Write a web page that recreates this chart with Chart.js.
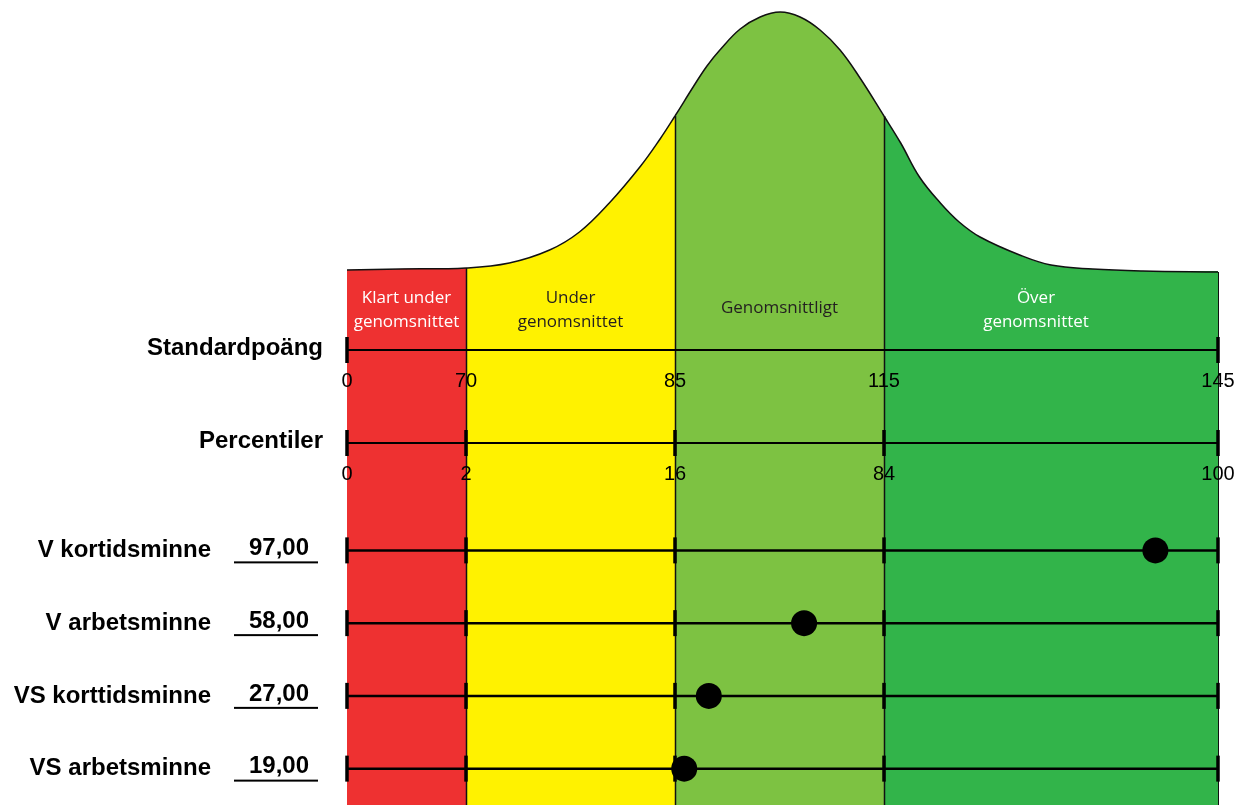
<!DOCTYPE html>
<html>
<head>
<meta charset="utf-8">
<script src="https://cdn.jsdelivr.net/npm/chart.js@4/dist/chart.umd.min.js"></script>
<style>
  body { margin: 0; background: #fff; }
  canvas { display: block; }
</style>
</head>
<body>
<canvas id="profil" width="1241" height="805"></canvas>
<script>
// zone edges in percentiles, with the matching standard scores
var zoneEdges = [0, 2, 16, 84, 100];
var standardTicks = ['0', '70', '85', '115', '145'];
var percentTicks = ['0', '2', '16', '84', '100'];
var zoneNames = [['Klart under', 'genomsnittet'], ['Under', 'genomsnittet'], ['Genomsnittligt'], ['Över', 'genomsnittet']];
var zoneColors = ['#ee3131', '#fff200', '#7dc242', '#32b44a'];
var zoneTextColors = ['#ffffff', '#231f20', '#231f20', '#ffffff'];
var scaleRows = ['Standardpoäng', 'Percentiler'];
var testNames = ['V kortidsminne', 'V arbetsminne', 'VS korttidsminne', 'VS arbetsminne'];
var testValues = [97, 58, 27, 19];

// bell curve (x in percentile, height above the base)
var curvePct = [0, 0.9, 2, 4.9, 7.6, 9.6, 11.6, 13.7, 15.0, 16, 21.9, 26.4, 30.6, 37.2, 43.7, 50.2, 56.7, 63.2, 69.7, 76.2, 84, 84.8, 85.7, 86.7, 87.6, 88.6, 90.5, 92.0, 94.0, 96.4, 100];
var curveH = [2, 3, 4, 9, 22, 40, 69, 106, 133, 156, 185, 206, 222, 243, 255, 260, 255, 242, 222, 194, 156, 129, 95, 69, 50, 35, 17, 7, 3, 1, 0];

// layout only
var zoneWidths = [119, 209, 209, 334];
var bandWeights = [303.5, 186, 24.5, 291];

class PiecewiseScale extends Chart.LinearScale {
    static id = 'piecewise';
    static defaults = Chart.LinearScale.defaults;
    getPixelForValue(v) {
        var total = zoneWidths.reduce(function (a, b) { return a + b; }, 0);
        var acc = 0;
        for (var i = 0; i < zoneWidths.length; i++) {
            var a = zoneEdges[i], b = zoneEdges[i + 1];
            if (v <= b || i === zoneWidths.length - 1) {
                return this.left + (acc + (v - a) / (b - a) * zoneWidths[i]) / total * this.width;
            }
            acc += zoneWidths[i];
        }
    }
    getValueForPixel(p) {
        var total = zoneWidths.reduce(function (a, b) { return a + b; }, 0);
        var f = (p - this.left) / this.width * total;
        var acc = 0;
        for (var i = 0; i < zoneWidths.length; i++) {
            if (f <= acc + zoneWidths[i] || i === zoneWidths.length - 1) {
                return zoneEdges[i] + (f - acc) / zoneWidths[i] * (zoneEdges[i + 1] - zoneEdges[i]);
            }
            acc += zoneWidths[i];
        }
    }
}
Chart.register(PiecewiseScale);

function zoneOf(p) {
    for (var i = 0; i < 4; i++) {
        if (p < zoneEdges[i + 1]) return i;
    }
    return 3;
}
function curveAt(p) {
    return curveH[curvePct.indexOf(p)];
}

var datasets = [];
// the bell curve, each part filled with its zone colour
datasets.push({
    data: curvePct.map(function (p, i) { return {x: p, y: curveH[i]}; }),
    yAxisID: 'yCurve',
    borderColor: '#111',
    borderWidth: 1.5,
    backgroundColor: zoneColors[0],
    fill: 'origin',
    pointRadius: 0,
    tension: 0.4,
    segment: {
        backgroundColor: function (c) { return zoneColors[zoneOf(c.p0.parsed.x)]; }
    },
    order: 10
});
// horizontal lines and tick marks
function rowLine(axis, name, width) {
    datasets.push({
        data: [{x: 0, y: name}, {x: 100, y: name}],
        yAxisID: axis, borderColor: '#000', borderWidth: width, pointRadius: 0, fill: false, order: 3
    });
}
function rowTicks(axis, name, values) {
    datasets.push({
        data: values.map(function (v) { return {x: v, y: name}; }),
        yAxisID: axis, showLine: false, pointStyle: 'line', pointRotation: 90,
        pointRadius: 13, pointBorderWidth: 3.5, pointBorderColor: '#000', clip: false, order: 2
    });
}
rowLine('yAxes', scaleRows[0], 2);
rowTicks('yAxes', scaleRows[0], [zoneEdges[0], zoneEdges[4]]);
rowLine('yAxes', scaleRows[1], 2);
rowTicks('yAxes', scaleRows[1], zoneEdges);
testNames.forEach(function (n) {
    rowLine('yRows', n, 2.5);
    rowTicks('yRows', n, zoneEdges);
});
// results
datasets.push({
    data: testNames.map(function (n, i) { return {x: testValues[i], y: n}; }),
    yAxisID: 'yRows', showLine: false, pointRadius: 13, pointBackgroundColor: '#000',
    pointBorderWidth: 0, clip: false, order: 1
});

function hiddenAxis(extra) {
    var base = {
        position: 'right', stack: 'rows', display: true,
        ticks: {display: false}, grid: {display: false, drawTicks: false}, border: {display: false}
    };
    return Object.assign(base, extra);
}

var labelPlugin = {
    id: 'labels',
    beforeDatasetsDraw: function (chart) {
        var ctx = chart.ctx, x = chart.scales.x, yc = chart.scales.yCurve;
        var base = yc.getPixelForValue(0);
        ctx.save();
        for (var z = 0; z < 4; z++) {
            var l = x.getPixelForValue(zoneEdges[z]), r = x.getPixelForValue(zoneEdges[z + 1]);
            ctx.fillStyle = zoneColors[z];
            ctx.fillRect(l, base - 1, r - l, chart.chartArea.bottom - base + 1);
        }
        ctx.restore();
    },
    afterDatasetDraw: function (chart, args) {
        if (args.index !== 0) return;
        var ctx = chart.ctx, x = chart.scales.x, yc = chart.scales.yCurve;
        ctx.save();
        ctx.strokeStyle = '#111';
        for (var i = 1; i < zoneEdges.length; i++) {
            var px = Math.round(x.getPixelForValue(zoneEdges[i])) + 0.5;
            ctx.lineWidth = i === zoneEdges.length - 1 ? 1 : 1.5;
            ctx.beginPath();
            ctx.moveTo(px, yc.getPixelForValue(curveAt(zoneEdges[i])));
            ctx.lineTo(px, chart.chartArea.bottom);
            ctx.stroke();
        }
        ctx.restore();
    },
    afterDatasetsDraw: function (chart) {
        var ctx = chart.ctx, x = chart.scales.x;
        var ya = chart.scales.yAxes, yr = chart.scales.yRows;
        var left = chart.chartArea.left;
        ctx.save();
        // zone names
        var top = ya.getPixelForValue(0);
        ctx.font = '17px "Open Sans"';
        ctx.textAlign = 'center';
        ctx.textBaseline = 'middle';
        var shift = [0, 0, 0, -15];
        for (var z = 0; z < 4; z++) {
            var cx = (x.getPixelForValue(zoneEdges[z]) + x.getPixelForValue(zoneEdges[z + 1])) / 2 + shift[z];
            ctx.fillStyle = zoneTextColors[z];
            var lines = zoneNames[z];
            if (lines.length === 1) {
                ctx.fillText(lines[0], cx, top - 42);
            } else {
                ctx.fillText(lines[0], cx, top - 52);
                ctx.fillText(lines[1], cx, top - 28);
            }
        }
        // tick labels
        ctx.fillStyle = '#000';
        ctx.font = '20px "Liberation Sans", Arial';
        [standardTicks, percentTicks].forEach(function (ticks, row) {
            var py = ya.getPixelForValue(row) + 31;
            ticks.forEach(function (t, i) {
                ctx.fillText(t, x.getPixelForValue(zoneEdges[i]), py);
            });
        });
        // row captions
        ctx.font = 'bold 24px "Liberation Sans", Arial';
        ctx.textAlign = 'right';
        scaleRows.forEach(function (n, i) {
            ctx.fillText(n, left - 24, ya.getPixelForValue(i) - 2);
        });
        testNames.forEach(function (n, i) {
            var py = yr.getPixelForValue(i);
            ctx.fillText(n, 211, py);
            ctx.fillText(testValues[i].toFixed(2).replace('.', ','), 309, py - 2);
            ctx.fillRect(234, py + 11, 84, 2);
        });
        ctx.restore();
    }
};

new Chart(document.getElementById('profil').getContext('2d'), {
    type: 'line',
    data: {datasets: datasets},
    options: {
        responsive: false,
        animation: false,
        devicePixelRatio: 1,
        layout: {autoPadding: false, padding: {left: 347, right: 23, top: 0, bottom: 0}},
        plugins: {legend: {display: false}, tooltip: {enabled: false}},
        events: [],
        scales: {
            x: {type: 'piecewise', min: 0, max: 100, display: false},
            yCurve: hiddenAxis({type: 'linear', min: -31.5, max: 272, stackWeight: bandWeights[0], weight: 0}),
            yAxes: hiddenAxis({type: 'category', labels: scaleRows, offset: true, stackWeight: bandWeights[1], weight: 1}),
            ySpace: hiddenAxis({type: 'linear', min: 0, max: 1, stackWeight: bandWeights[2], weight: 2}),
            yRows: hiddenAxis({type: 'category', labels: testNames, offset: true, stackWeight: bandWeights[3], weight: 3})
        }
    },
    plugins: [labelPlugin]
});
</script>
</body>
</html>
